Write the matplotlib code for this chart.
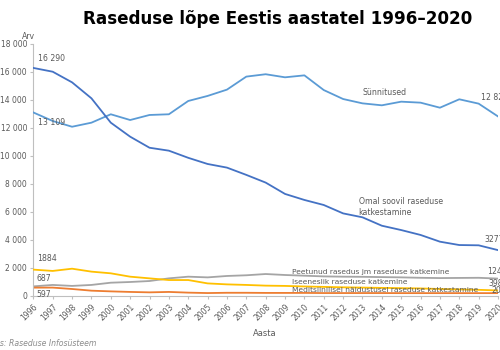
import matplotlib
matplotlib.use("Agg")
import matplotlib.pyplot as plt
from matplotlib.ticker import FuncFormatter

years = list(range(1996, 2021))
synnitused = [13109, 12500, 12090, 12380, 12980, 12570, 12930, 12980, 13930, 14290,
              14740, 15670, 15840, 15620, 15760, 14710, 14070, 13760, 13620, 13880,
              13810, 13450, 14050, 13740, 12826]
omal_soovil = [16290, 16020, 15260, 14120, 12380, 11380, 10590, 10380, 9870, 9430,
               9170, 8650, 8100, 7290, 6860, 6500, 5900, 5620, 5020, 4710,
               4360, 3880, 3640, 3620, 3277]
peetunud = [687, 790, 720, 790, 950, 1000, 1070, 1260, 1380, 1330,
            1430, 1480, 1570, 1500, 1450, 1400, 1380, 1370, 1350, 1330,
            1300, 1280, 1290, 1300, 1243]
iseeneslik = [1884, 1790, 1950, 1740, 1620, 1380, 1260, 1140, 1140, 900,
              830, 790, 740, 720, 680, 650, 620, 600, 580, 560,
              540, 500, 470, 440, 398]
meditsiinilisel = [597, 600, 500, 380, 330, 290, 260, 290, 240, 210,
                   230, 230, 220, 220, 220, 210, 210, 210, 210, 205,
                   205, 205, 205, 205, 204]

title = "Raseduse lõpe Eestis aastatel 1996–2020"
series_names = ["Sünnitused", "Omal soovil raseduse\nkatkestamine",
                "Peetunud rasedus jm raseduse katkemine",
                "Iseeneslik raseduse katkemine",
                "Meditsiinilisel näidustusel raseduse katkestamine"]

txt = "#595959"
fig = plt.figure(figsize=(5, 3.5), dpi=100)
ax = fig.add_axes([0.0667, 0.1543, 0.9293, 0.72])

ax.plot(years, peetunud, color="#a5a5a5", lw=1.3, zorder=2)
ax.plot(years, iseeneslik, color="#ffc000", lw=1.3, zorder=3)
ax.plot(years, meditsiinilisel, color="#ed7d31", lw=1.3, zorder=2)
ax.plot(years, synnitused, color="#5b9bd5", lw=1.3, zorder=3)
ax.plot(years, omal_soovil, color="#4472c4", lw=1.3, zorder=3)

ax.set_xlim(1996, 2020)
ax.set_ylim(0, 18000)
ax.set_yticks(range(0, 18001, 2000))
ax.yaxis.set_major_formatter(FuncFormatter(lambda v, p: f"{int(v):,}".replace(",", " ")))
ax.set_xticks(years)
ax.set_xticklabels([str(y) for y in years], rotation=45, ha="right",
                   rotation_mode="anchor")
ax.tick_params(axis="both", labelsize=5.5, colors="#bfbfbf", labelcolor=txt,
               length=2.5, width=0.8)
ax.tick_params(axis="y", pad=2)
ax.tick_params(axis="x", pad=2)
for s in ["top", "right"]:
    ax.spines[s].set_visible(False)
for s in ["left", "bottom"]:
    ax.spines[s].set_color("#bfbfbf")
    ax.spines[s].set_linewidth(0.8)

fs = 5.6
ax.annotate("16 290", (1996, omal_soovil[0]), xytext=(3, 5), textcoords="offset points",
            fontsize=fs, color=txt)
ax.annotate("13 109", (1996, synnitused[0]), xytext=(3, -9), textcoords="offset points",
            fontsize=fs, color=txt)
ax.annotate("1884", (1996, iseeneslik[0]), xytext=(3, 6), textcoords="offset points",
            fontsize=fs, color=txt)
ax.annotate("687", (1996, peetunud[0]), xytext=(2, 4), textcoords="offset points",
            fontsize=fs, color=txt)
ax.annotate("597", (1996, meditsiinilisel[0]), xytext=(2, -6.5), textcoords="offset points",
            fontsize=fs, color=txt)
ax.annotate("12 826", (2020, synnitused[-1]), xytext=(-12, 12), textcoords="offset points",
            fontsize=fs, color=txt)
ax.annotate("3277", (2020, omal_soovil[-1]), xytext=(-10, 6), textcoords="offset points",
            fontsize=fs, color=txt)
ax.annotate("1243", (2020, peetunud[-1]), xytext=(-8, 3), textcoords="offset points",
            fontsize=fs, color=txt)
ax.annotate("398", (2020, iseeneslik[-1]), xytext=(-7, 3.5), textcoords="offset points",
            fontsize=fs, color=txt)
ax.annotate("204", (2020, meditsiinilisel[-1]), xytext=(-5, 0), textcoords="offset points",
            fontsize=fs, color=txt)

ax.text(2013.0, 14500, series_names[0], fontsize=fs, color=txt, va="center")
ax.text(2012.8, 6350, series_names[1], fontsize=fs, color=txt, va="center",
        linespacing=1.2)
ax.text(2009.35, 1710, series_names[2], fontsize=5.4, color=txt, va="center")
ax.text(2009.35, 980, series_names[3], fontsize=5.4, color=txt, va="center")
ax.text(2009.35, 420, series_names[4], fontsize=5.4, color=txt, va="center")

fig.text(0.058, 0.888, "Arv", fontsize=fs, color=txt, ha="center")
fig.text(0.53, 0.04, "Aasta", fontsize=6, color=txt, ha="center")
fig.text(-0.042, 0.01, "Allikas: Raseduse Infosüsteem", fontsize=5.6, color="#8c8c8c",
         style="italic")
fig.text(0.556, 0.945, title, fontsize=12.1, fontweight="bold", color="black",
         ha="center", va="center")

fig.savefig("out.png", dpi=100)
